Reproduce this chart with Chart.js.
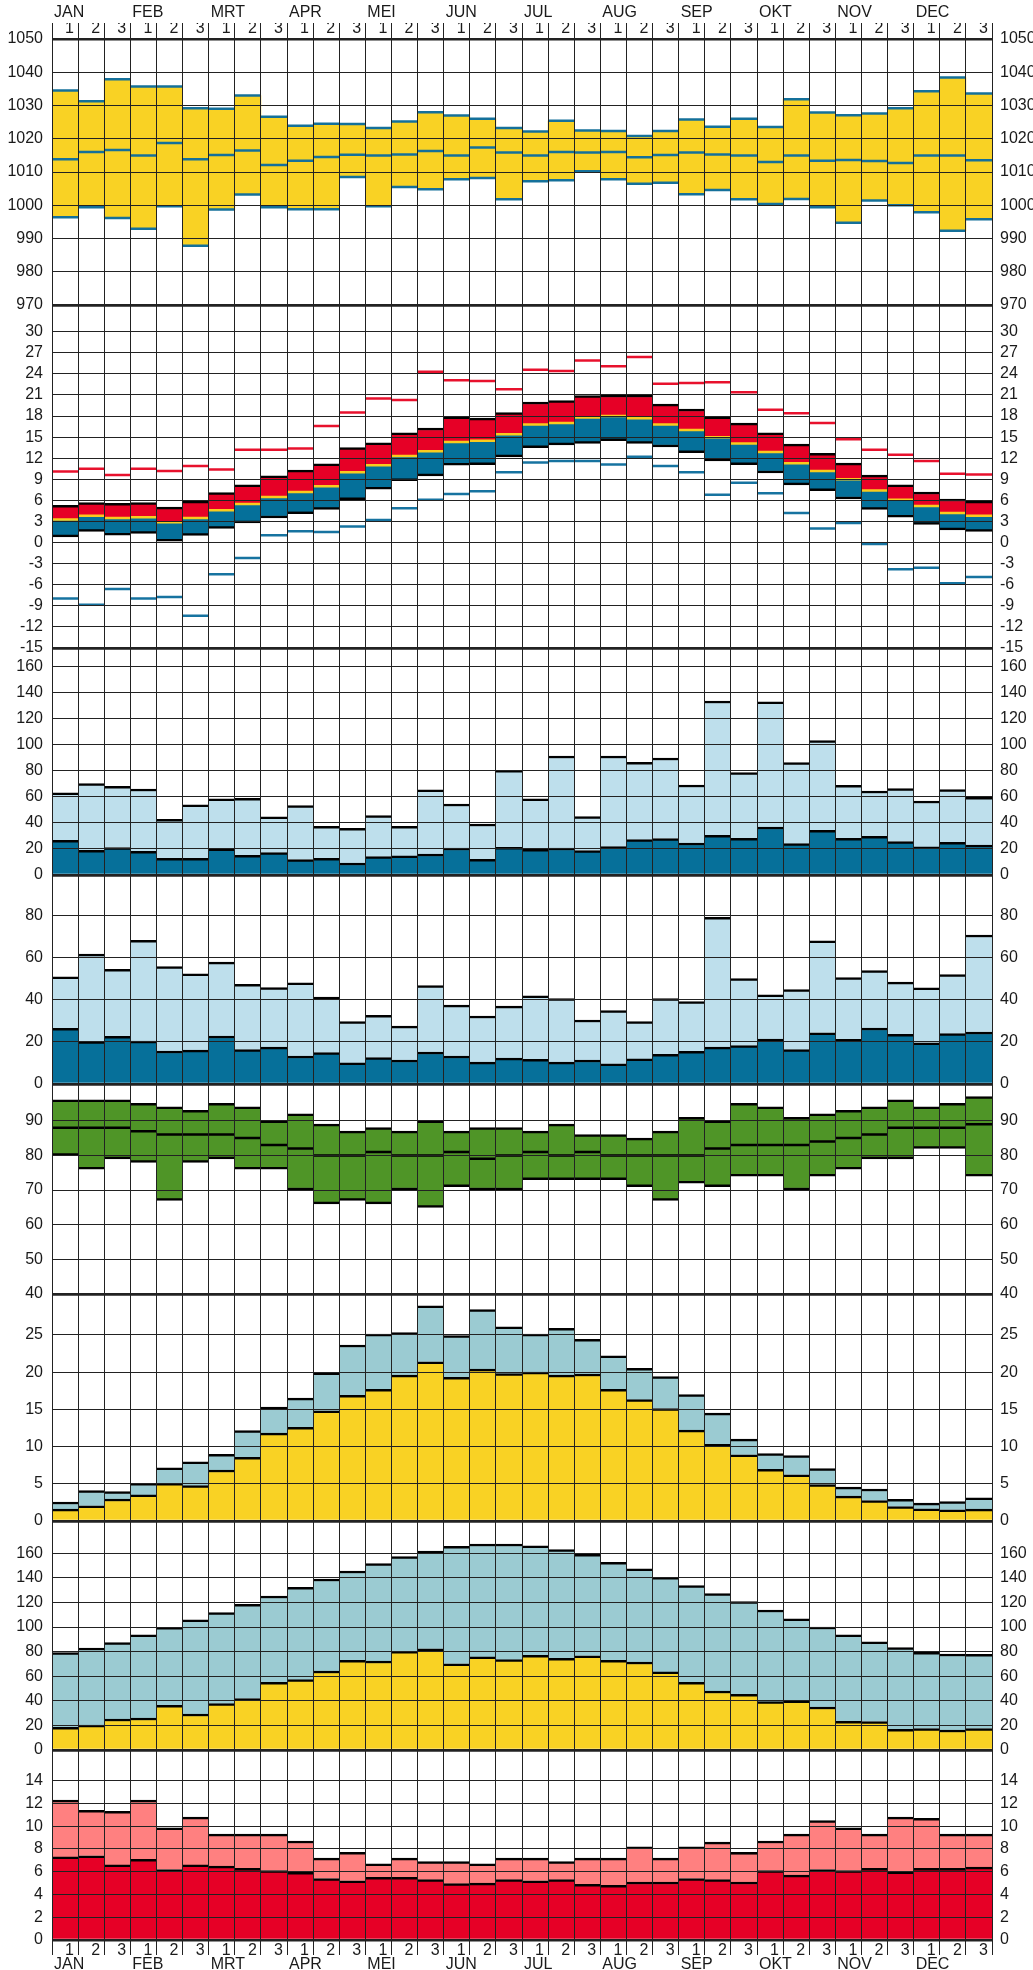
<!DOCTYPE html>
<html>
<head>
<meta charset="utf-8">
<script src="https://cdn.jsdelivr.net/npm/chart.js@4.4.1/dist/chart.umd.min.js"></script>
<style>
body { margin: 0; background: #fff; }
#wrap { position: relative; width: 1033px; height: 1970px; overflow: hidden; }
.panel { position: absolute; left: 0; width: 1033px; }
</style>
</head>
<body>
<div id="wrap"></div>
<script>
const months = ['JAN', 'FEB', 'MRT', 'APR', 'MEI', 'JUN', 'JUL', 'AUG', 'SEP', 'OKT', 'NOV', 'DEC'];
const decades = ['1','2','3','1','2','3','1','2','3','1','2','3','1','2','3','1','2','3',
                 '1','2','3','1','2','3','1','2','3','1','2','3','1','2','3','1','2','3'];

// luchtdruk
const presTicks = [970, 980, 990, 1000, 1010, 1020, 1030, 1040, 1050];
const presHigh = [1034.5, 1031.3, 1037.9, 1035.7, 1035.7, 1029.2, 1029.0, 1033.0, 1026.6, 1023.9, 1024.5, 1024.4,
                  1023.2, 1025.2, 1028.0, 1027.0, 1026.0, 1023.2, 1022.2, 1025.4, 1022.5, 1022.3, 1020.8, 1022.3,
                  1025.8, 1023.6, 1026.0, 1023.5, 1031.9, 1027.9, 1027.1, 1027.6, 1029.2, 1034.3, 1038.4, 1033.6];
const presMean = [1013.8, 1016.0, 1016.6, 1015.0, 1018.7, 1013.8, 1015.1, 1016.5, 1012.1, 1013.4, 1014.5, 1015.2,
                  1015.0, 1015.3, 1016.3, 1015.0, 1017.4, 1015.9, 1015.0, 1016.0, 1015.9, 1016.0, 1014.4, 1015.1,
                  1015.9, 1015.3, 1015.0, 1013.0, 1015.0, 1013.4, 1013.6, 1013.3, 1012.7, 1015.0, 1015.0, 1013.5];
const presLow = [996.4, 999.4, 996.2, 992.9, 999.7, 987.8, 998.7, 1003.2, 999.4, 998.8, 998.8, 1008.5,
                 999.7, 1005.5, 1004.8, 1007.8, 1008.2, 1001.8, 1007.2, 1007.5, 1010.2, 1007.8, 1006.5, 1006.8,
                 1003.3, 1004.6, 1001.8, 1000.4, 1001.9, 999.4, 994.7, 1001.4, 1000.0, 997.9, 992.3, 995.8];

// temperatuur
const tempTicks = [-15, -12, -9, -6, -3, 0, 3, 6, 9, 12, 15, 18, 21, 24, 27, 30];
const tempAbsMax = [10.1, 10.5, 9.6, 10.5, 10.2, 10.9, 10.4, 13.2, 13.2, 13.4, 16.6, 18.5,
                    20.5, 20.3, 24.3, 23.1, 23.0, 21.8, 24.6, 24.4, 25.9, 25.1, 26.4, 22.6,
                    22.7, 22.8, 21.4, 18.9, 18.4, 17.0, 14.7, 13.2, 12.5, 11.6, 9.8, 9.7];
const tempMaxMean = [5.3, 5.7, 5.6, 5.7, 5.05, 5.9, 7.1, 8.2, 9.5, 10.3, 11.2, 13.5,
                     14.2, 15.6, 16.3, 17.9, 17.7, 18.5, 20.0, 20.2, 20.9, 21.0, 21.0, 19.7,
                     19.0, 17.9, 17.0, 15.6, 14.0, 12.7, 11.3, 9.6, 8.2, 7.2, 6.2, 5.9];
const tempMean = [3.3, 3.8, 3.5, 3.6, 2.9, 3.5, 4.6, 5.5, 6.5, 7.2, 8.0, 10.0,
                  11.0, 12.3, 13.0, 14.3, 14.5, 15.4, 16.8, 17.0, 17.8, 18.0, 17.7, 16.8,
                  16.0, 15.0, 14.1, 12.9, 11.3, 10.2, 9.0, 7.4, 6.1, 5.2, 4.2, 3.8];
const tempMinMean = [0.8, 1.6, 1.05, 1.3, 0.2, 1.0, 2.0, 2.8, 3.5, 4.1, 4.7, 6.1,
                     7.6, 8.8, 9.5, 11.0, 11.1, 12.2, 13.5, 13.9, 14.1, 14.5, 14.1, 13.6,
                     12.8, 11.6, 11.1, 9.9, 8.2, 7.4, 6.2, 4.7, 3.6, 2.6, 1.8, 1.6];
const tempAbsMin = [-7.95, -8.86, -6.6, -7.95, -7.76, -10.4, -4.5, -2.2, 1.05, 1.6, 1.5, 2.3,
                    3.2, 4.9, 6.1, 6.9, 7.3, 10.0, 11.4, 11.6, 11.6, 11.1, 12.2, 10.9,
                    10.0, 6.8, 8.5, 7.0, 4.2, 2.0, 2.8, -0.2, -3.8, -3.6, -5.8, -4.9];

// neerslag (1)
const rainTicks1 = [0, 20, 40, 60, 80, 100, 120, 140, 160];
const rainHigh1 = [62.9, 70.0, 68.0, 65.9, 42.7, 53.7, 58.3, 58.8, 44.5, 53.2, 37.3, 35.8,
                   45.5, 37.3, 65.2, 54.4, 39.1, 80.3, 58.3, 91.2, 44.7, 91.2, 86.4, 89.7,
                   69.0, 133.4, 78.5, 132.7, 86.1, 103.0, 68.8, 64.4, 66.2, 56.7, 65.4, 59.6];
const rainMean1 = [26.6, 18.9, 21.0, 18.1, 12.8, 12.8, 20.0, 15.1, 17.1, 11.8, 12.8, 9.2,
                   14.1, 14.6, 16.1, 20.7, 12.0, 21.2, 19.7, 20.7, 18.7, 21.7, 27.1, 27.9,
                   24.5, 30.4, 28.1, 36.8, 24.0, 34.2, 28.1, 29.6, 25.6, 21.5, 25.0, 23.0];

// neerslag (2)
const rainTicks2 = [0, 20, 40, 60, 80];
const rainHigh2 = [50.9, 61.7, 54.5, 68.3, 55.8, 52.3, 57.9, 47.4, 45.8, 48.1, 41.3, 29.6,
                   32.6, 27.5, 46.8, 37.5, 32.3, 37.0, 41.9, 40.6, 30.4, 34.9, 29.6, 40.6,
                   39.2, 79.2, 50.1, 42.4, 44.9, 68.0, 50.6, 53.9, 48.4, 45.7, 52.0, 70.8];
const rainMean2 = [26.4, 20.2, 22.6, 20.4, 15.7, 16.1, 22.8, 16.3, 17.5, 13.3, 14.9, 10.0,
                   12.5, 11.4, 15.2, 13.3, 10.4, 12.3, 11.7, 10.4, 11.4, 9.6, 11.9, 14.1,
                   15.5, 17.5, 18.2, 21.3, 16.3, 24.3, 21.2, 26.6, 23.6, 19.6, 23.9, 24.7];

// relatieve vochtigheid
const humTicks = [40, 50, 60, 70, 80, 90];
const humHigh = [96, 96, 96, 95, 94, 93, 95, 94, 90, 92, 89, 87,
                 88, 87, 90, 87, 88, 88, 87, 89, 86, 86, 85, 87,
                 91, 90, 95, 94, 91, 92, 93, 94, 96, 94, 95, 97];
const humMean = [88, 88, 88, 87, 86, 86, 86, 85, 83, 82, 80, 80,
                 81, 80, 80, 81, 79, 80, 81, 80, 81, 80, 80, 80,
                 80, 82, 83, 83, 83, 84, 85, 86, 88, 88, 88, 89];
const humLow = [80, 76, 79, 78, 67, 78, 79, 76, 76, 70, 66, 67,
                66, 70, 65, 71, 70, 70, 73, 73, 73, 73, 71, 67,
                72, 71, 74, 74, 70, 74, 76, 79, 79, 82, 82, 74];

// zonneschijn
const sunTicks = [0, 5, 10, 15, 20, 25];
const sunHigh = [2.55, 4.1, 3.95, 5.05, 7.15, 7.95, 8.95, 12.15, 15.3, 16.5, 19.9, 23.65,
                 25.1, 25.3, 28.9, 24.9, 28.4, 26.1, 25.1, 25.9, 24.4, 22.2, 20.5, 19.4,
                 17.0, 14.5, 11.0, 9.05, 8.8, 7.05, 4.55, 4.3, 2.9, 2.4, 2.6, 3.1];
const sunMean = [1.6, 2.05, 2.95, 3.5, 5.05, 4.75, 6.85, 8.55, 11.8, 12.6, 14.8, 16.9,
                 17.7, 19.6, 21.4, 19.3, 20.4, 19.8, 20.0, 19.6, 19.75, 17.7, 16.3, 15.1,
                 12.2, 10.3, 8.9, 6.95, 6.2, 4.9, 3.35, 2.75, 1.95, 1.65, 1.5, 1.6];

// straling
const radTicks = [0, 20, 40, 60, 80, 100, 120, 140, 160];
const radHigh = [79.2, 83.0, 87.3, 93.6, 99.8, 105.8, 111.7, 118.5, 125.3, 132.3, 139.1, 145.6,
                 151.6, 157.3, 161.9, 165.7, 167.6, 167.6, 166.2, 163.0, 159.2, 152.7, 147.3, 140.5,
                 133.7, 127.2, 120.7, 113.9, 106.8, 100.1, 93.6, 87.9, 83.3, 79.5, 78.1, 77.8];
const radMean = [18.4, 20.3, 25.2, 26.0, 36.3, 29.3, 37.7, 41.8, 55.1, 57.2, 64.3, 72.9,
                 72.4, 80.3, 82.4, 70.2, 75.7, 73.5, 77.0, 74.6, 76.7, 72.9, 71.6, 63.5,
                 55.1, 48.0, 45.3, 39.3, 40.1, 35.0, 23.3, 23.1, 16.8, 17.4, 16.3, 17.4];

// wind
const windTicks = [0, 2, 4, 6, 8, 10, 12, 14];
const windHigh = [12.3, 11.4, 11.3, 12.3, 9.85, 10.8, 9.3, 9.3, 9.3, 8.7, 7.2, 7.7,
                  6.7, 7.2, 6.9, 6.9, 6.7, 7.2, 7.2, 6.9, 7.2, 7.2, 8.2, 7.2,
                  8.2, 8.6, 7.7, 8.7, 9.3, 10.5, 9.85, 9.3, 10.8, 10.7, 9.3, 9.3];
const windMean = [7.3, 7.4, 6.6, 7.1, 6.2, 6.6, 6.5, 6.3, 6.1, 5.95, 5.4, 5.2,
                  5.5, 5.5, 5.3, 4.95, 5.0, 5.3, 5.2, 5.3, 4.9, 4.8, 5.1, 5.1,
                  5.4, 5.3, 5.1, 6.1, 5.7, 6.2, 6.1, 6.3, 6.0, 6.3, 6.3, 6.4];

const FONT = {family: '"Liberation Sans", Arial, sans-serif', size: 16};
const TEXT = '#1a1a1a';
const GRID = '#222';
const LEFT_W = 52, RIGHT_W = 41;
const PAD = 20;
const MARK_R = (1033 - LEFT_W - RIGHT_W) / 36 / 2;

const YELLOW = '#F9D224', PRES_BLUE = '#14709A';
const RED = '#E60026', BLUE = '#05709A', MEAN_YEL = '#F9CB1E';
const RAIN_LIGHT = '#BEDFEC', RAIN_DARK = '#06709A';
const GREEN = '#4F9527', TEAL = '#9BCBD2', PINK = '#FF8080';

const wrap = document.getElementById('wrap');

function addCanvas(top, height) {
    const div = document.createElement('div');
    div.className = 'panel';
    div.style.top = top + 'px';
    div.style.height = height + 'px';
    const c = document.createElement('canvas');
    div.appendChild(c);
    wrap.appendChild(div);
    return c;
}

function yAxis(side, min, max, ticks) {
    const left = side === 'left';
    return {
        type: 'linear', position: side, min: min, max: max,
        afterBuildTicks: s => {
            const vals = ticks.includes(max) ? ticks : ticks.concat([max]);
            s.ticks = vals.map(v => ({value: v}));
        },
        afterFit: s => { s.width = left ? LEFT_W : RIGHT_W; },
        grid: {
            drawOnChartArea: left, drawTicks: false, z: 1, color: GRID,
            lineWidth: c => (c.tick && (c.tick.value === min || c.tick.value === max)) ? 2.5 : 1
        },
        border: {display: false},
        ticks: {
            padding: left ? 9 : 8, color: TEXT, font: FONT, autoSkip: false,
            callback: v => ticks.includes(v) ? String(v) : ''
        }
    };
}

function xAxes(where) {
    const grid = {z: 1, color: GRID, lineWidth: 1, offset: true, drawTicks: false};
    if (where === 'none') {
        return {x: {type: 'category', offset: true, grid: grid, ticks: {display: false},
                    border: {display: false}, afterFit: s => { s.height = 0; }}};
    }
    const top = where === 'top';
    const tl = top ? 16 : 15;
    return {
        x: {type: 'category', position: where, offset: true,
            grid: Object.assign({}, grid, {drawTicks: true, tickLength: tl}),
            border: {display: false},
            ticks: {padding: top ? -15.1 : -13.6, labelOffset: 4.5, autoSkip: false, maxRotation: 0,
                    font: FONT, color: TEXT},
            afterFit: s => { s.height = tl; }},
        xm: {type: 'category', labels: months, position: where, weight: 1, offset: true,
             grid: {display: false, drawTicks: false}, border: {display: false},
             ticks: {padding: top ? 0.9 : 0.4, labelOffset: -37.2, align: 'start', autoSkip: false,
                     maxRotation: 0, font: FONT, color: TEXT},
             afterFit: s => { s.height = top ? 23 : 15; }}
    };
}

function bar(data, color, border) {
    return {
        type: 'bar', data: data, backgroundColor: color, borderColor: '#000',
        borderWidth: Object.assign({top: 0, right: 0, bottom: 0, left: 0}, border),
        borderSkipped: false, grouped: false, barPercentage: 1, categoryPercentage: 1,
        xAxisID: 'x', yAxisID: 'y', order: 2
    };
}

function range(lo, hi) {
    return lo.map((v, i) => [v, hi[i]]);
}

function mark(values, color, width) {
    return {
        type: 'line', data: values, showLine: false, pointStyle: 'line',
        pointRadius: MARK_R, pointHoverRadius: MARK_R, pointBorderColor: color,
        pointBackgroundColor: color, pointBorderWidth: width,
        xAxisID: 'x', yAxisID: 'y', order: 0
    };
}

// plotTop / plotBottom: edges of the plot area in page pixels
function panel(cfg) {
    const head = cfg.axis === 'top' ? 39 : PAD;
    const foot = cfg.axis === 'bottom' ? 30 : PAD;
    const top = cfg.plotTop - head;
    const canvas = addCanvas(top, cfg.plotBottom + foot - top);
    const scales = Object.assign({}, xAxes(cfg.axis), {
        y: yAxis('left', cfg.min, cfg.max, cfg.ticks),
        yr: yAxis('right', cfg.min, cfg.max, cfg.ticks)
    });
    return new Chart(canvas, {
        type: 'bar',
        data: {labels: decades, datasets: cfg.datasets},
        options: {
            responsive: true, maintainAspectRatio: false, animation: false, events: [],
            layout: {padding: {top: cfg.axis === 'top' ? 0 : PAD, bottom: cfg.axis === 'bottom' ? 0 : PAD, left: 0, right: 0}},
            plugins: {legend: {display: false}, tooltip: {enabled: false}},
            scales: scales
        }
    });
}

const T = {top: 2.5};

// luchtdruk
panel({plotTop: 39, plotBottom: 305, axis: 'top',
    min: 970, max: 1050, ticks: presTicks,
    datasets: [
        mark(presHigh, PRES_BLUE, 2.5),
        mark(presMean, PRES_BLUE, 2.5),
        mark(presLow, PRES_BLUE, 2.5),
        bar(range(presLow, presHigh), YELLOW, {})
    ]});

// temperatuur
panel({plotTop: 305, plotBottom: 648, axis: 'none',
    min: -15, max: 33.8, ticks: tempTicks,
    datasets: [
        mark(tempMean, MEAN_YEL, 2.5),
        mark(tempAbsMax, '#E8112D', 2.5),
        mark(tempAbsMin, '#1673A0', 2.5),
        bar(range(tempMean, tempMaxMean), RED, T),
        bar(range(tempMinMean, tempMean), BLUE, {bottom: 2.5})
    ]});

// neerslag 1
panel({plotTop: 648, plotBottom: 875, axis: 'none',
    min: 0, max: 174, ticks: rainTicks1,
    datasets: [
        bar(rainMean1, RAIN_DARK, T),
        bar(range(rainMean1, rainHigh1), RAIN_LIGHT, T)
    ]});

// neerslag 2
panel({plotTop: 875, plotBottom: 1084, axis: 'none',
    min: 0, max: 99.3, ticks: rainTicks2,
    datasets: [
        bar(rainMean2, RAIN_DARK, T),
        bar(range(rainMean2, rainHigh2), RAIN_LIGHT, T)
    ]});

// vochtigheid
panel({plotTop: 1084, plotBottom: 1294, axis: 'none',
    min: 40, max: 100.6, ticks: humTicks,
    datasets: [
        mark(humMean, '#000', 2.5),
        bar(range(humLow, humHigh), GREEN, {top: 2.5, bottom: 2.5})
    ]});

// zonneschijn
panel({plotTop: 1294, plotBottom: 1521, axis: 'none',
    min: 0, max: 30.5, ticks: sunTicks,
    datasets: [
        bar(sunMean, YELLOW, T),
        bar(range(sunMean, sunHigh), TEAL, T)
    ]});

// straling
panel({plotTop: 1521, plotBottom: 1750, axis: 'none',
    min: 0, max: 186.3, ticks: radTicks,
    datasets: [
        bar(radMean, YELLOW, T),
        bar(range(radMean, radHigh), TEAL, T)
    ]});

// wind
panel({plotTop: 1750, plotBottom: 1940, axis: 'bottom',
    min: 0, max: 16.7, ticks: windTicks,
    datasets: [
        bar(windMean, RED, T),
        bar(range(windMean, windHigh), PINK, T)
    ]});
</script>
</body>
</html>
